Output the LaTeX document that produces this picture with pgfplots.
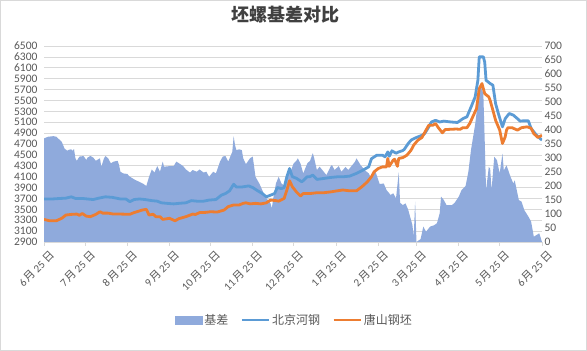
\documentclass[border=0pt]{standalone}
\usepackage{fontspec}
\usepackage{pgfplots}
\usepackage{pgfplotstable}
\pgfplotsset{compat=1.18}
\setmainfont{Carlito}
\newfontfamily\cjk{Noto Sans CJK SC}
\definecolor{areablue}{HTML}{8FAADC}
\definecolor{lineblue}{HTML}{5B9BD5}
\definecolor{lineorange}{HTML}{ED7D31}
\definecolor{gridgray}{HTML}{D9D9D9}
\definecolor{labelgray}{HTML}{595959}
\definecolor{titlegray}{HTML}{404040}

\pgfplotstableread{
d b
0 370
3 376
7 378
9 376
13 358
15 334
17 326
18 329
20 331
21 326
22 332
23 299
24 290
26 305
29 307
31 293
32 302
34 307
36 302
38 290
41 299
42 269
44 299
45 307
47 299
49 281
51 287
54 290
55 275
56 251
58 245
61 243
63 233
66 224
73 207
75 200
77 233
79 259
81 248
83 271
85 251
87 287
88 269
92 271
95 271
97 287
99 281
102 271
104 259
107 248
109 257
112 251
114 259
117 248
119 251
121 233
124 251
126 245
129 287
131 305
133 307
135 287
138 322
139 378
140 346
141 328
143 331
145 328
146 299
148 278
151 299
153 305
155 233
158 207
161 174
163 156
166 138
167 120
168 156
170 209
172 233
174 209
177 198
179 245
181 255
183 281
185 290
186 299
188 280
190 245
193 281
195 290
197 317
198 300
200 257
202 269
205 251
207 239
210 269
211 275
213 257
216 271
218 251
221 268
223 257
226 275
228 287
229 299
232 275
235 257
238 245
240 227
243 251
244 236
246 207
249 209
251 186
254 168
256 174
258 156
260 248
261 140
263 132
265 138
267 114
270 61
271 19
272 144
273 0
275 7
276 10
278 55
280 37
283 55
286 60
288 67
290 102
291 162
293 150
295 132
299 132
301 140
304 162
306 185
309 200
311 250
313 330
316 420
318 500
320 560
322 530
323 364
324 185
326 268
327 262
328 185
330 304
332 292
333 268
334 245
336 316
337 256
339 274
342 232
344 209
345 220
348 150
350 144
352 114
355 91
357 73
359 19
361 25
363 31
365 0
}\basis

\pgfplotstableread{
d v
0 3690
6 3690
12 3700
16 3705
20 3730
23 3700
28 3700
32 3690
36 3680
41 3710
45 3730
50 3720
56 3690
60 3690
63 3640
66 3680
70 3690
74 3680
79 3660
83 3650
86 3620
90 3610
95 3600
99 3610
104 3620
108 3660
112 3650
117 3650
121 3670
126 3680
130 3760
133 3790
136 3840
139 3960
141 3910
145 3910
150 3930
153 3900
156 3850
160 3790
163 3730
166 3760
169 3790
171 3900
174 3880
176 3900
178 4100
180 4250
182 4100
185 4070
189 4005
193 4100
195 4100
197 4130
200 4050
203 4060
210 4085
216 4100
220 4100
224 4110
229 4160
233 4210
238 4280
240 4430
244 4495
248 4495
250 4465
252 4555
253 4475
255 4575
258 4530
260 4555
263 4580
264 4600
267 4710
269 4770
272 4810
277 4860
279 4890
282 5015
284 5105
287 5135
290 5105
293 5120
298 5105
303 5095
307 5165
310 5200
313 5380
316 5565
318 5870
319 6300
322 6300
323 6205
324 5870
327 5810
329 5780
331 5440
333 5260
336 5015
338 5165
341 5260
344 5230
347 5165
349 5120
351 5125
355 5125
357 4985
361 4860
365 4770
}\hegang

\pgfplotstableread{
d v
0 3315
4 3290
9 3290
13 3335
16 3395
20 3407
24 3413
26 3390
28 3425
31 3375
34 3365
38 3407
41 3456
43 3430
47 3430
51 3413
56 3413
61 3410
63 3410
66 3440
68 3455
72 3487
75 3500
77 3395
80 3410
82 3365
85 3365
87 3315
92 3335
96 3290
99 3330
104 3365
109 3413
111 3405
114 3440
119 3445
122 3456
127 3450
132 3487
135 3550
139 3580
143 3580
146 3610
148 3620
151 3600
155 3610
159 3600
163 3620
166 3670
170 3660
172 3650
176 3700
178 3853
180 4025
182 3915
185 3820
188 3745
190 3790
195 3790
200 3805
205 3805
210 3820
215 3840
219 3855
224 3840
229 3840
233 3915
237 4005
240 4100
242 4190
245 4250
248 4280
251 4280
252 4435
253 4290
256 4405
257 4420
259 4290
260 4435
263 4450
266 4495
269 4585
271 4680
274 4770
277 4820
282 5045
285 5045
287 5075
289 5000
292 4905
294 4965
298 4970
302 4975
305 4970
307 5000
310 5000
312 5075
314 5185
317 5350
319 5715
321 5810
323 5625
326 5565
327 5500
329 5320
331 5135
334 4955
336 4710
338 4830
339 4955
340 5000
343 5000
347 4955
350 5000
354 5015
357 4990
359 4890
362 4820
365 4860
}\tangshan

\begin{document}
\begin{tikzpicture}
\useasboundingbox (0,0) rectangle (587bp,351bp);
\fill[white] (0,0) rectangle (587bp,351bp);
\draw[gridgray, line width=0.75bp] (0.5bp,0.5bp) rectangle (586.5bp,350.5bp);

\pgfplotsset{
  base/.style={
    at={(44bp,109bp)}, anchor=south west,
    scale only axis, width=498bp, height=196bp,
    xmin=0, xmax=365,
  },
}

% axis 1: left ticks, grid, x axis
\begin{axis}[base,
  ymin=2900, ymax=6500,
  ytick={2900,3100,...,6500},
  ymajorgrids, grid style={draw=gridgray, line width=0.75bp},
  axis x line*=bottom, axis y line*=left,
  y axis line style={draw=none},
  ytick style={draw=none},
  x axis line style={draw=gridgray, line width=0.75bp},
  xtick style={draw=gridgray, line width=0.75bp},
  tick align=outside, major tick length=4bp,
  xtick={0,30,61,92,122,153,183,214,245,273,304,334,365},
  xticklabels={6\,{\cjk 月}\,25\,{\cjk 日},7\,{\cjk 月}\,25\,{\cjk 日},8\,{\cjk 月}\,25\,{\cjk 日},9\,{\cjk 月}\,25\,{\cjk 日},10\,{\cjk 月}\,25\,{\cjk 日},11\,{\cjk 月}\,25\,{\cjk 日},12\,{\cjk 月}\,25\,{\cjk 日},1\,{\cjk 月}\,25\,{\cjk 日},2\,{\cjk 月}\,25\,{\cjk 日},3\,{\cjk 月}\,25\,{\cjk 日},4\,{\cjk 月}\,25\,{\cjk 日},5\,{\cjk 月}\,25\,{\cjk 日},6\,{\cjk 月}\,25\,{\cjk 日}},
  xticklabel style={font=\fontsize{11bp}{12bp}\selectfont, text=labelgray, rotate=45, anchor=east, xshift=4bp, yshift=-11bp},
  yticklabel style={font=\fontsize{11.5bp}{13bp}\selectfont, text=labelgray, xshift=1bp},
  /pgf/number format/assume math mode=true,
  /pgf/number format/1000 sep={},
  scaled y ticks=false,
]
\addplot[draw=none] coordinates {(0,2900)};
\end{axis}

% axis 2: right axis with basis area
\begin{axis}[base,
  ymin=0, ymax=700,
  ytick={0,50,...,700},
  axis y line*=right, axis x line=none,
  y axis line style={draw=none},
  ytick style={draw=none},
  yticklabel style={font=\fontsize{11.5bp}{13bp}\selectfont, text=labelgray, xshift=-1bp},
  /pgf/number format/assume math mode=true,
]
\addplot[fill=areablue, draw=none] table[x=d, y=b] {\basis} \closedcycle;
\end{axis}

% axis 3: lines
\begin{axis}[base,
  ymin=2900, ymax=6500,
  hide axis,
  legend columns=3,
  legend style={at={(0.503,-0.398)}, anchor=center, draw=none, fill=none,
    font=\cjk\fontsize{12bp}{14bp}\selectfont, text=labelgray,
    /tikz/every even column/.append style={column sep=10bp},
    inner sep=0pt},
  legend image code/.code={\draw[#1] (0bp,0bp) -- (27bp,0bp);},
]
\addlegendimage{legend image code/.code={\fill[areablue] (0bp,-4bp) rectangle (27bp,4bp);}}
\addlegendentry{基差}
\addplot[lineblue, line width=2.8bp, line join=round] table[x=d, y=v] {\hegang};
\addlegendentry{北京河钢}
\addplot[lineorange, line width=2.8bp, line join=round] table[x=d, y=v] {\tangshan};
\addlegendentry{唐山钢坯}
\end{axis}

\node[font=\cjk\bfseries\fontsize{18bp}{20bp}\selectfont, text=titlegray] at (285bp,336bp) {坯螺基差对比};
\end{tikzpicture}
\end{document}
